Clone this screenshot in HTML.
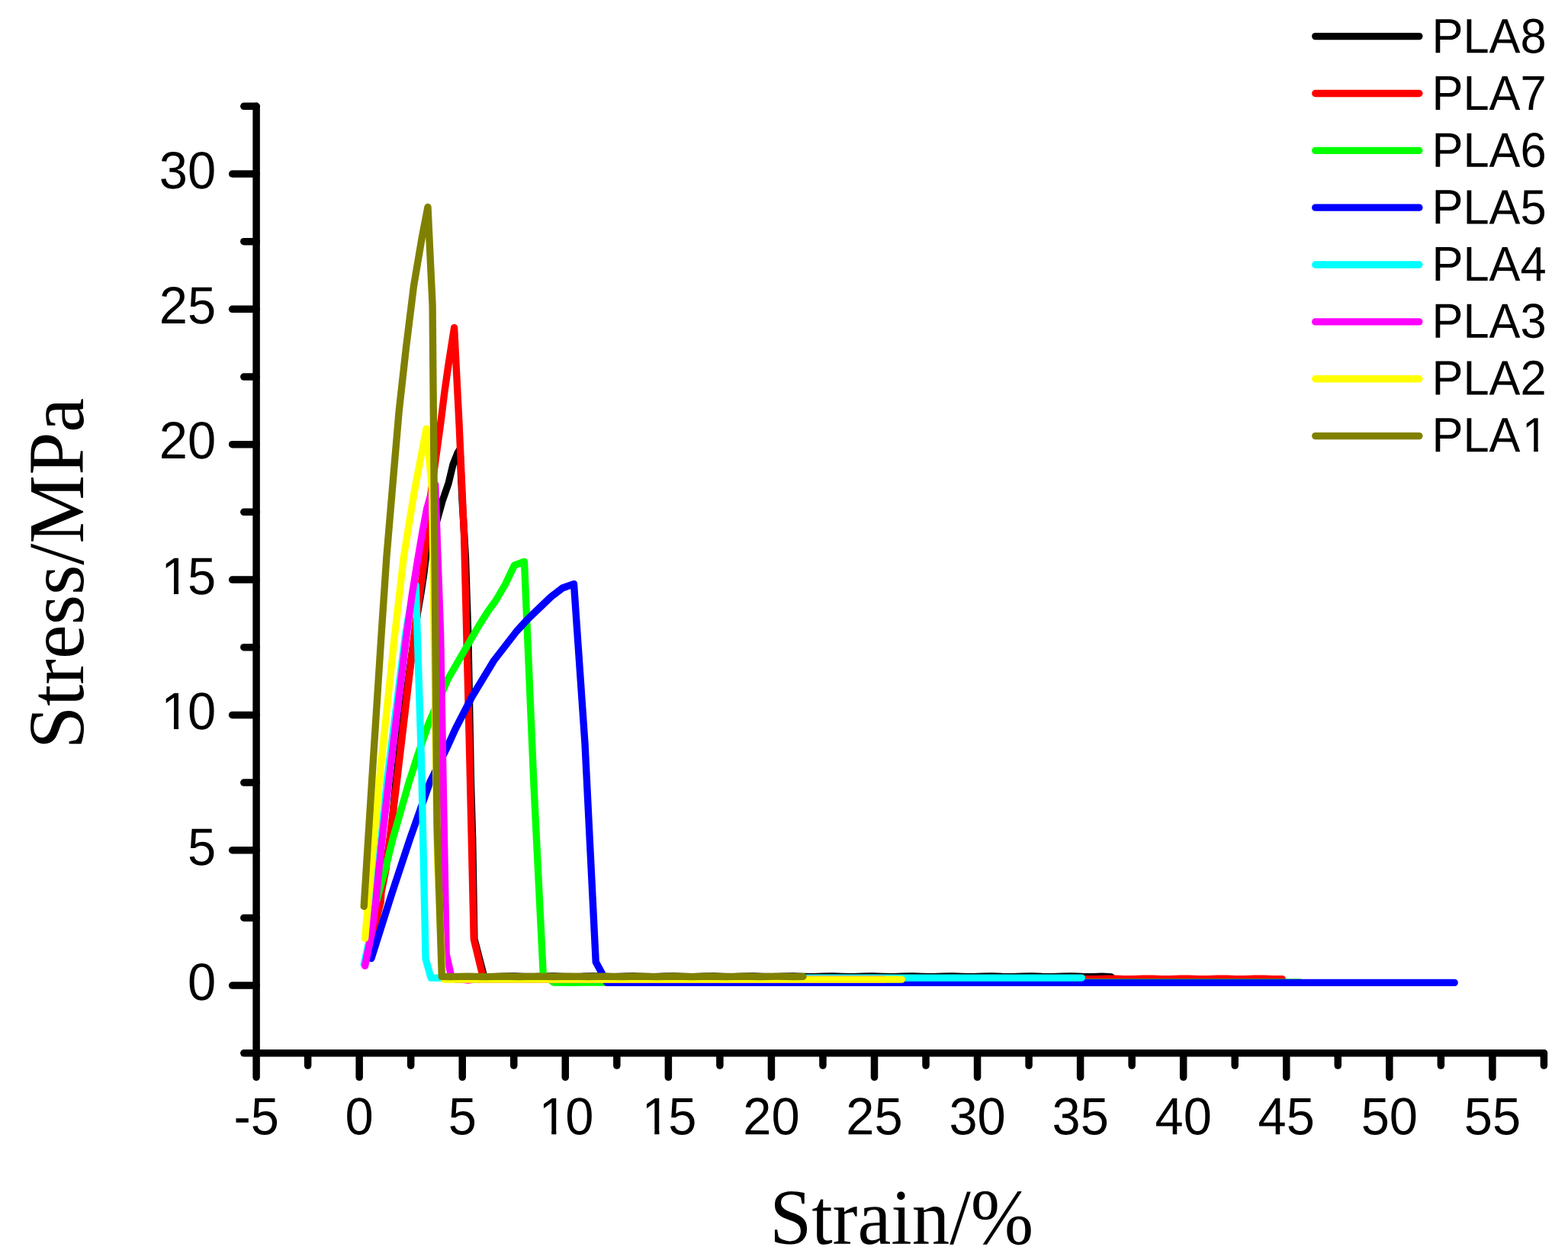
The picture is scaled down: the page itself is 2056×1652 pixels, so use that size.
<!DOCTYPE html>
<html lang="en"><head><meta charset="utf-8"><title>Stress-strain curves of PLA1 to PLA8</title>
<style>
html,body{margin:0;padding:0;background:#fff;}
body{width:2056px;height:1652px;overflow:hidden;}
svg{display:block;}
.tk{font-family:"Liberation Sans",sans-serif;font-size:68.9px;fill:#000;}
.lg{font-family:"Liberation Sans",sans-serif;font-size:64.1px;fill:#000;}
.ti{font-family:"Liberation Serif",serif;font-size:103.6px;fill:#000;}
.ax{stroke:#000;stroke-width:9.5;stroke-linecap:round;fill:none;}
text{font-kerning:none;}
.cv{fill:none;stroke-width:9.35;stroke-linecap:round;stroke-linejoin:round;}
</style></head><body>
<svg width="2056" height="1652" viewBox="0 0 2056 1652">
<rect width="2056" height="1652" fill="#fff"/>
<defs><clipPath id="clip-10-689"><rect x="-6" y="-68.9" width="88.64" height="62.55"/><rect x="-6" y="-7.35" width="12.73" height="28.02"/><rect x="38.44" y="-7.35" width="44.2" height="28.02"/><rect x="19.67" y="-7.35" width="6.36" height="8.35"/></clipPath><clipPath id="clip-15-689"><rect x="-6" y="-68.9" width="88.64" height="62.55"/><rect x="-6" y="-7.35" width="12.73" height="28.02"/><rect x="38.44" y="-7.35" width="44.2" height="28.02"/><rect x="19.67" y="-7.35" width="6.36" height="8.35"/></clipPath><clipPath id="clip-pla1-641"><rect x="-6" y="-64.1" width="168.81" height="58.11"/><rect x="-6" y="-6.99" width="133.35" height="26.22"/><rect x="156.98" y="-6.99" width="5.82" height="26.22"/><rect x="139.46" y="-6.99" width="5.92" height="7.99"/></clipPath></defs>
<g id="curves">
<polyline class="cv" stroke="#000000" points="485.5,1236 490.2,1216.3 498.5,1182.4 499.2,1170 505.2,1140 513,1090 519,1025.6 531.5,920 538.6,868 546,815 547.25,805 551.6,780 555.4,755 558.5,730 566,702 572.6,683.75 580,657 588,634 594,609 600,594 603,589 606,655 610.4,730 613.9,835.6 617.5,1025.6 619.7,1100 621.9,1231 634.7,1280.4 647.77,1280.65 660.84,1280.29 673.91,1279.95 686.98,1280.31 700.05,1280.65 713.12,1280.28 726.19,1279.95 739.25,1280.32 752.32,1280.65 765.39,1280.27 778.46,1279.95 791.53,1280.34 804.6,1280.65 817.67,1280.26 830.74,1279.95 843.81,1280.35 856.88,1280.65 869.95,1280.25 883.02,1279.95 896.09,1280.36 909.16,1280.64 922.23,1280.24 935.3,1279.96 948.36,1280.37 961.43,1280.64 974.5,1280.22 987.57,1279.96 1000.64,1280.38 1013.71,1280.64 1026.78,1280.21 1039.85,1279.96 1052.92,1280.39 1065.99,1280.64 1079.06,1280.2 1092.13,1279.96 1105.2,1280.4 1118.27,1280.63 1131.34,1280.19 1144.4,1279.97 1157.47,1280.42 1170.54,1280.63 1183.61,1280.18 1196.68,1279.97 1209.75,1280.43 1222.82,1280.63 1235.89,1280.17 1248.96,1279.98 1262.03,1280.44 1275.1,1280.62 1288.17,1280.16 1301.24,1279.98 1314.31,1280.45 1327.38,1280.62 1340.45,1280.15 1353.51,1279.99 1366.58,1280.46 1379.65,1280.61 1392.72,1280.14 1405.79,1279.99 1418.86,1280.47 1431.93,1280.61 1445,1280.13 1457.3,1281"/>
<polyline class="cv" stroke="#ff0000" points="486,1238 490.9,1216.3 499.25,1182.4 499.95,1170 506,1140 520.25,1025.6 532.75,920 544.6,820 553.75,755 565.25,645.6 578.1,552.5 582.75,515 588.1,477.5 595.6,429.6 602,555 608.5,700 615,960 621.25,1231.25 633.9,1283.4 646.08,1283.7 658.26,1283.41 670.44,1283.1 682.62,1283.39 694.8,1283.7 706.97,1283.42 719.15,1283.1 731.33,1283.38 743.51,1283.7 755.69,1283.43 767.87,1283.1 780.05,1283.37 792.23,1283.7 804.41,1283.44 816.59,1283.1 828.77,1283.36 840.94,1283.7 853.12,1283.45 865.3,1283.1 877.48,1283.35 889.66,1283.69 901.84,1283.46 914.02,1283.11 926.2,1283.34 938.38,1283.69 950.56,1283.47 962.73,1283.11 974.91,1283.32 987.09,1283.69 999.27,1283.48 1011.45,1283.11 1023.63,1283.31 1035.81,1283.69 1047.99,1283.49 1060.17,1283.12 1072.35,1283.3 1084.53,1283.68 1096.7,1283.5 1108.88,1283.12 1121.06,1283.29 1133.24,1283.68 1145.42,1283.51 1157.6,1283.12 1169.78,1283.28 1181.96,1283.68 1194.14,1283.52 1206.32,1283.13 1218.5,1283.27 1230.67,1283.67 1242.85,1283.53 1255.03,1283.13 1267.21,1283.26 1279.39,1283.67 1291.57,1283.54 1303.75,1283.14 1315.93,1283.25 1328.11,1283.66 1340.29,1283.55 1352.47,1283.14 1364.64,1283.24 1376.82,1283.66 1389,1283.56 1401.18,1283.15 1413.36,1283.24 1425.54,1283.65 1437.72,1283.57 1449.9,1283.15 1462.08,1283.23 1474.26,1283.64 1486.43,1283.58 1498.61,1283.16 1510.79,1283.22 1522.97,1283.64 1535.15,1283.59 1547.33,1283.17 1559.51,1283.21 1571.69,1283.63 1583.87,1283.6 1596.05,1283.17 1608.23,1283.2 1620.4,1283.62 1632.58,1283.6 1644.76,1283.18 1656.94,1283.19 1669.12,1283.61 1681.3,1283.61"/>
<polyline class="cv" stroke="#00ff00" points="494,1180 505.15,1140 515,1100 536.25,1025.6 548.2,988.75 562.5,947.5 587.5,890 610,851.25 628.1,820 640,801.25 650,787.5 662.5,766.25 674.4,741.25 687.5,736.5 700,1030 712.3,1278 726,1288 751,1288.3 776,1288 1704.6,1288"/>
<polyline class="cv" stroke="#0000ff" points="486.9,1256.5 514.3,1170 537.5,1100 563.75,1025.6 585,982.5 597.5,955 618.75,913.75 647.5,866.25 677.5,827.5 692.5,811.25 722.5,782.5 737.5,771 752.5,765.6 767,975 781.25,1261.25 796,1288.4 1907.2,1288.4"/>
<polyline class="cv" stroke="#00ffff" points="477.3,1264 486,1224.7 491,1184 495.6,1140 499.8,1100 507.2,1025.6 531.2,835.6 534.5,815 540,785 545.2,767.5 552.6,1000 558.07,1257.1 565.08,1282.06 1418.4,1282.06"/>
<polyline class="cv" stroke="#ff00ff" points="478.6,1266.3 487.1,1224.7 492.6,1184 496.9,1140 501.1,1100 509.6,1025.6 532.75,835.6 540.25,780 548.4,730 554,697 559.6,667.5 565,648 570.7,635.3 577.6,830 585.2,1251 591.5,1279 598,1284 606,1284 613.8,1285 621,1284 1160,1284"/>
<polyline class="cv" stroke="#ffff00" points="478.6,1230.3 490.2,1100 497.1,1025.6 517.25,835.6 529.4,730 543.1,645.6 559,562.1 566.5,640 573.3,1120 580.3,1281 583,1284.1 1182.4,1284.1"/>
<polyline class="cv" stroke="#808000" points="477.2,1188.4 482.75,1100 487.5,1025.6 500.3,828 506.9,730 514.7,638 523.1,540 532.5,455.6 542.5,375 553.1,312.5 561,271.5 567.1,400 573,1080 579.3,1280.3 590.58,1280.6 601.86,1280.35 613.14,1280.1 624.41,1280.35 635.69,1280.6 646.97,1280.34 658.25,1280.1 669.53,1280.36 680.81,1280.6 692.09,1280.34 703.36,1280.1 714.64,1280.36 725.92,1280.6 737.2,1280.34 748.48,1280.1 759.76,1280.37 771.04,1280.6 782.31,1280.33 793.59,1280.1 804.87,1280.37 816.15,1280.6 827.43,1280.33 838.71,1280.1 849.99,1280.37 861.26,1280.6 872.54,1280.32 883.82,1280.1 895.1,1280.38 906.38,1280.6 917.66,1280.32 928.94,1280.1 940.21,1280.38 951.49,1280.6 962.77,1280.32 974.05,1280.1 985.33,1280.39 996.61,1280.6 1007.89,1280.31 1019.16,1280.1 1030.44,1280.39 1041.72,1280.6 1053,1280.31"/>
</g>
<g id="axes" class="ax">
<line x1="336.11" y1="139.33" x2="336.11" y2="1380.77"/>
<line x1="336.11" y1="1380.77" x2="2024.42" y2="1380.77"/>
<line x1="336.11" y1="1380.77" x2="319.81" y2="1380.77"/>
<line x1="336.11" y1="1292.1" x2="304.61" y2="1292.1"/>
<line x1="336.11" y1="1203.42" x2="319.81" y2="1203.42"/>
<line x1="336.11" y1="1114.75" x2="304.61" y2="1114.75"/>
<line x1="336.11" y1="1026.07" x2="319.81" y2="1026.07"/>
<line x1="336.11" y1="937.4" x2="304.61" y2="937.4"/>
<line x1="336.11" y1="848.72" x2="319.81" y2="848.72"/>
<line x1="336.11" y1="760.05" x2="304.61" y2="760.05"/>
<line x1="336.11" y1="671.37" x2="319.81" y2="671.37"/>
<line x1="336.11" y1="582.7" x2="304.61" y2="582.7"/>
<line x1="336.11" y1="494.02" x2="319.81" y2="494.02"/>
<line x1="336.11" y1="405.35" x2="304.61" y2="405.35"/>
<line x1="336.11" y1="316.67" x2="319.81" y2="316.67"/>
<line x1="336.11" y1="228" x2="304.61" y2="228"/>
<line x1="336.11" y1="139.33" x2="319.81" y2="139.33"/>
<line x1="336.11" y1="1380.77" x2="336.11" y2="1412.27"/>
<line x1="403.64" y1="1380.77" x2="403.64" y2="1397.07"/>
<line x1="471.17" y1="1380.77" x2="471.17" y2="1412.27"/>
<line x1="538.7" y1="1380.77" x2="538.7" y2="1397.07"/>
<line x1="606.24" y1="1380.77" x2="606.24" y2="1412.27"/>
<line x1="673.77" y1="1380.77" x2="673.77" y2="1397.07"/>
<line x1="741.3" y1="1380.77" x2="741.3" y2="1412.27"/>
<line x1="808.83" y1="1380.77" x2="808.83" y2="1397.07"/>
<line x1="876.37" y1="1380.77" x2="876.37" y2="1412.27"/>
<line x1="943.9" y1="1380.77" x2="943.9" y2="1397.07"/>
<line x1="1011.43" y1="1380.77" x2="1011.43" y2="1412.27"/>
<line x1="1078.96" y1="1380.77" x2="1078.96" y2="1397.07"/>
<line x1="1146.5" y1="1380.77" x2="1146.5" y2="1412.27"/>
<line x1="1214.03" y1="1380.77" x2="1214.03" y2="1397.07"/>
<line x1="1281.56" y1="1380.77" x2="1281.56" y2="1412.27"/>
<line x1="1349.09" y1="1380.77" x2="1349.09" y2="1397.07"/>
<line x1="1416.62" y1="1380.77" x2="1416.62" y2="1412.27"/>
<line x1="1484.16" y1="1380.77" x2="1484.16" y2="1397.07"/>
<line x1="1551.69" y1="1380.77" x2="1551.69" y2="1412.27"/>
<line x1="1619.22" y1="1380.77" x2="1619.22" y2="1397.07"/>
<line x1="1686.76" y1="1380.77" x2="1686.76" y2="1412.27"/>
<line x1="1754.29" y1="1380.77" x2="1754.29" y2="1397.07"/>
<line x1="1821.82" y1="1380.77" x2="1821.82" y2="1412.27"/>
<line x1="1889.35" y1="1380.77" x2="1889.35" y2="1397.07"/>
<line x1="1956.89" y1="1380.77" x2="1956.89" y2="1412.27"/>
<line x1="2024.42" y1="1380.77" x2="2024.42" y2="1397.07"/>
</g>
<g id="xticks" class="tk">
<text text-anchor="middle" transform="translate(336.11 1487.3) rotate(0.03) scale(0.97 1)">-5</text>
<text text-anchor="middle" transform="translate(471.17 1487.3) rotate(0.03) scale(0.97 1)">0</text>
<text text-anchor="middle" transform="translate(606.24 1487.3) rotate(0.03) scale(0.97 1)">5</text>
<text clip-path="url(#clip-10-689)" transform="translate(704.13 1487.3) rotate(0.03) scale(0.97 1)"><tspan dx="2.48">1</tspan><tspan dx="-2.48">0</tspan></text>
<text clip-path="url(#clip-15-689)" transform="translate(839.2 1487.3) rotate(0.03) scale(0.97 1)"><tspan dx="2.48">1</tspan><tspan dx="-2.48">5</tspan></text>
<text text-anchor="middle" transform="translate(1011.43 1487.3) rotate(0.03) scale(0.97 1)">20</text>
<text text-anchor="middle" transform="translate(1146.5 1487.3) rotate(0.03) scale(0.97 1)">25</text>
<text text-anchor="middle" transform="translate(1281.56 1487.3) rotate(0.03) scale(0.97 1)">30</text>
<text text-anchor="middle" transform="translate(1416.62 1487.3) rotate(0.03) scale(0.97 1)">35</text>
<text text-anchor="middle" transform="translate(1551.69 1487.3) rotate(0.03) scale(0.97 1)">40</text>
<text text-anchor="middle" transform="translate(1686.76 1487.3) rotate(0.03) scale(0.97 1)">45</text>
<text text-anchor="middle" transform="translate(1821.82 1487.3) rotate(0.03) scale(0.97 1)">50</text>
<text text-anchor="middle" transform="translate(1956.89 1487.3) rotate(0.03) scale(0.97 1)">55</text>
</g>
<g id="yticks" class="tk">
<text text-anchor="end" transform="translate(283.2 1311) rotate(0.03) scale(0.97 1)">0</text>
<text text-anchor="end" transform="translate(283.2 1134) rotate(0.03) scale(0.97 1)">5</text>
<text clip-path="url(#clip-10-689)" transform="translate(208.86 956) rotate(0.03) scale(0.97 1)"><tspan dx="2.48">1</tspan><tspan dx="-2.48">0</tspan></text>
<text clip-path="url(#clip-15-689)" transform="translate(208.86 779) rotate(0.03) scale(0.97 1)"><tspan dx="2.48">1</tspan><tspan dx="-2.48">5</tspan></text>
<text text-anchor="end" transform="translate(283.2 601) rotate(0.03) scale(0.97 1)">20</text>
<text text-anchor="end" transform="translate(283.2 424) rotate(0.03) scale(0.97 1)">25</text>
<text text-anchor="end" transform="translate(283.2 247) rotate(0.03) scale(0.97 1)">30</text>
</g>
<g id="legend">
<line class="cv" stroke="#000000" x1="1724.75" y1="47.6" x2="1860.85" y2="47.6"/>
<text class="lg" transform="translate(1877.5 69.2) rotate(0.03) scale(0.958 1)">PLA8</text>
<line class="cv" stroke="#ff0000" x1="1724.75" y1="122.46" x2="1860.85" y2="122.46"/>
<text class="lg" transform="translate(1877.5 143.92) rotate(0.03) scale(0.958 1)">PLA7</text>
<line class="cv" stroke="#00ff00" x1="1724.75" y1="197.32" x2="1860.85" y2="197.32"/>
<text class="lg" transform="translate(1877.5 218.64) rotate(0.03) scale(0.958 1)">PLA6</text>
<line class="cv" stroke="#0000ff" x1="1724.75" y1="272.18" x2="1860.85" y2="272.18"/>
<text class="lg" transform="translate(1877.5 293.36) rotate(0.03) scale(0.958 1)">PLA5</text>
<line class="cv" stroke="#00ffff" x1="1724.75" y1="347.04" x2="1860.85" y2="347.04"/>
<text class="lg" transform="translate(1877.5 368.08) rotate(0.03) scale(0.958 1)">PLA4</text>
<line class="cv" stroke="#ff00ff" x1="1724.75" y1="421.9" x2="1860.85" y2="421.9"/>
<text class="lg" transform="translate(1877.5 442.8) rotate(0.03) scale(0.958 1)">PLA3</text>
<line class="cv" stroke="#ffff00" x1="1724.75" y1="496.76" x2="1860.85" y2="496.76"/>
<text class="lg" transform="translate(1877.5 517.52) rotate(0.03) scale(0.958 1)">PLA2</text>
<line class="cv" stroke="#808000" x1="1724.75" y1="571.62" x2="1860.85" y2="571.62"/>
<text class="lg" clip-path="url(#clip-pla1-641)" transform="translate(1877.5 592.24) rotate(0.03) scale(0.958 1)">PLA<tspan dx="2.31">1</tspan></text>
</g>
<text id="xtitle" class="ti" text-anchor="middle" transform="translate(1182.1 1630.7) rotate(0.03) scale(0.954 1)">Strain/%</text>
<text id="ytitle" class="ti" text-anchor="middle" transform="translate(108.7 751.9) rotate(-90) scale(0.975 1)">Stress/MPa</text>
</svg></body></html>
